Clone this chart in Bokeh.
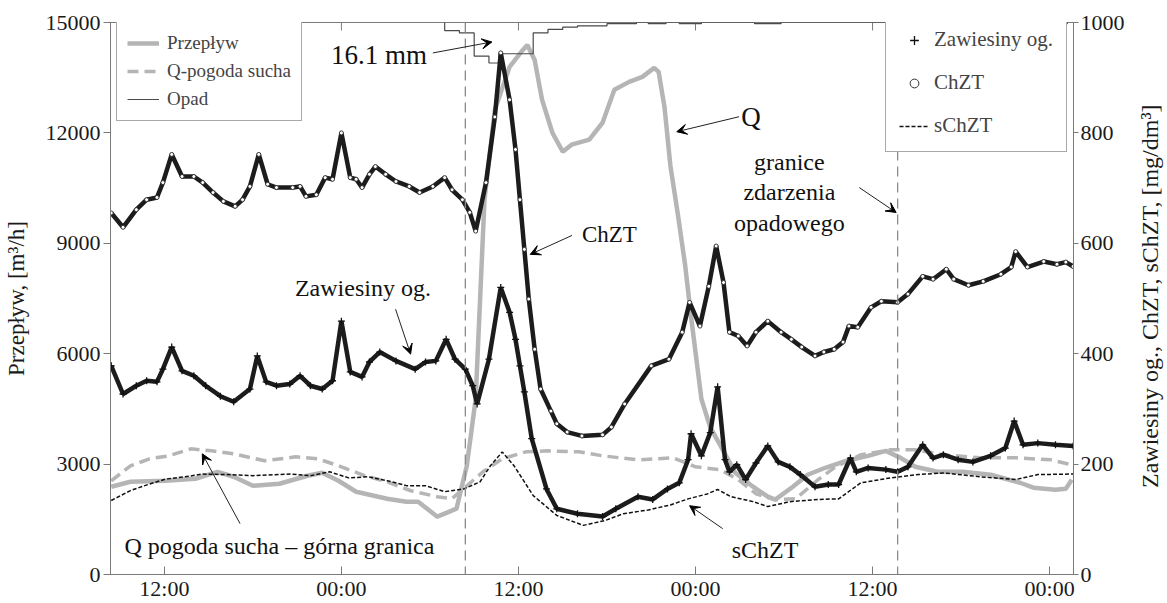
import math
from bokeh.plotting import figure
from bokeh.layouts import row
from bokeh.models import (Range1d, LinearAxis, FixedTicker, Legend, LegendItem,
                          Span, Label, Arrow, VeeHead)
from bokeh.embed import file_html
from bokeh.resources import INLINE

# ---------------- data (time in hours from 00:00 of day 1) ----------------
time_ticks = [12, 24, 36, 48, 60, 72]
time_labels = ["12:00", "00:00", "12:00", "00:00", "12:00", "00:00"]
q_ticks = [0, 3000, 6000, 9000, 12000, 15000]
c_ticks = [0, 200, 400, 600, 800, 1000]
event_bounds = [32.4, 61.7]

q_t = [8.4, 9.7, 12.1, 14.1, 15.6, 16.7, 18.0, 19.8, 21.7, 22.7, 23.8, 25.0, 27.1, 28.4,
       29.2, 30.5, 31.8, 32.5, 33.1, 33.7, 34.4, 35.4, 36.3, 36.6, 37.1, 37.6, 38.3, 39.0,
       39.6, 40.8, 41.7, 42.5, 43.5, 44.4, 45.2, 45.5, 45.9, 46.3, 46.8, 47.3, 47.7, 48.4,
       49.0, 49.7, 50.7, 51.9, 52.9, 53.4, 54.6, 55.6, 56.8, 58.2, 59.7, 60.9, 61.9, 62.9,
       64.4, 66.1, 68.0, 70.0, 70.9, 72.4, 73.1, 73.5]
q = [2385, 2520, 2547, 2602, 2791, 2656, 2412, 2466, 2683, 2764, 2547, 2249, 2060, 1978,
     1978, 1572, 1789, 2954, 4770, 10190, 12630, 13794, 14255, 14390, 13980, 12900, 12005, 11490,
     11680, 11815, 12276, 13170, 13387, 13523, 13767, 13660, 12700, 11100, 9800, 8400, 7000, 4770,
     4000, 3496, 2764, 2385, 2114, 2033, 2385, 2710, 2900, 3089, 3225, 3360, 3170, 2927,
     2791, 2791, 2710, 2493, 2358, 2303, 2330, 2575]

qd_t = [8.4, 9.7, 11.0, 12.3, 13.8, 15.2, 16.7, 18.8, 20.9, 22.4, 24.0, 25.6, 27.1, 28.7,
        30.5, 31.5, 32.5, 33.6, 34.9, 36.5, 38.0, 40.1, 41.7, 44.1, 46.5, 48.0, 49.7, 50.9,
        52.1, 53.4, 54.8, 56.3, 57.5, 59.2, 61.2, 62.9, 64.8, 67.3, 69.7, 72.1, 73.5]
qd = [2547, 2954, 3144, 3225, 3415, 3360, 3279, 3089, 3198, 3144, 2927, 2683, 2520, 2276,
      2114, 2060, 2412, 2791, 3144, 3333, 3360, 3333, 3225, 3116, 3170, 2927, 2845, 2575,
      2195, 2033, 2060, 2575, 2927, 3252, 3388, 3388, 3252, 3170, 3170, 3116, 2981]

chzt_t = [8.4, 9.2, 10.1, 10.8, 11.5, 11.9, 12.5, 13.2, 14.0, 14.6, 15.3, 16.0, 16.8, 17.3,
          17.8, 18.4, 19.0, 19.6, 20.7, 21.2, 21.6, 22.3, 22.9, 23.4, 24.0, 24.6, 25.0, 25.4,
          25.9, 26.3, 27.0, 27.7, 28.6, 29.3, 30.2, 31.0, 31.5, 32.2, 32.7, 33.1, 33.8, 34.4,
          34.8, 35.4, 35.8, 36.1, 36.4, 36.7, 37.1, 37.5, 38.2, 38.6, 39.3, 40.3, 41.7, 42.3,
          43.2, 45.0, 46.2, 47.1, 47.6, 48.3, 48.9, 49.4, 49.9, 50.3, 50.9, 51.5, 52.1, 52.9,
          53.8, 54.5, 55.2, 56.1, 56.7, 57.4, 58.0, 58.4, 59.0, 59.9, 60.6, 61.7, 62.4, 63.4,
          64.1, 65.0, 65.5, 66.5, 67.5, 68.7, 69.4, 69.7, 70.5, 71.6, 72.5, 73.1, 73.6]
chzt = [655, 629, 661, 679, 683, 710, 761, 721, 721, 710, 692, 676, 667, 679,
        703, 761, 707, 701, 701, 703, 685, 688, 719, 716, 800, 719, 716, 701,
        725, 739, 725, 712, 703, 692, 703, 719, 697, 679, 656, 622, 710, 829,
        945, 860, 770, 679, 589, 499, 408, 336, 296, 273, 258, 251, 253, 267,
        309, 378, 390, 439, 493, 450, 522, 595, 529, 439, 432, 414, 439, 459,
        439, 426, 412, 396, 403, 408, 421, 450, 448, 484, 495, 493, 508, 540,
        535, 553, 535, 524, 531, 544, 557, 585, 557, 567, 562, 566, 558]

zaw_t = [8.4, 9.2, 10.1, 10.8, 11.5, 11.9, 12.5, 13.2, 14.0, 14.8, 15.8, 16.7, 17.8, 18.3,
         18.9, 19.6, 20.5, 21.2, 21.9, 22.7, 23.4, 24.0, 24.6, 25.4, 25.9, 26.6, 27.7, 29.0,
         29.7, 30.4, 31.1, 31.7, 32.4, 32.9, 33.2, 34.0, 34.8, 35.4, 35.8, 36.1, 36.4, 36.9,
         37.9, 38.6, 40.0, 41.7, 42.6, 44.1, 45.1, 46.1, 46.9, 47.5, 47.7, 48.4, 49.0, 49.5,
         50.0, 50.3, 50.8, 51.4, 52.1, 52.9, 53.6, 54.4, 55.1, 56.1, 57.0, 57.7, 58.5, 58.9,
         59.7, 60.9, 61.7, 62.4, 63.4, 64.1, 64.8, 65.8, 66.8, 68.0, 69.0, 69.6, 70.2, 71.2,
         72.4, 73.6]
zaw = [378, 327, 342, 351, 349, 372, 412, 369, 360, 342, 323, 313, 336, 396,
       349, 342, 345, 360, 342, 336, 351, 459, 367, 358, 385, 403, 387, 372,
       385, 387, 426, 390, 372, 342, 309, 390, 520, 475, 426, 378, 331, 246,
       155, 119, 110, 105, 119, 141, 136, 155, 166, 208, 255, 215, 257, 340,
       208, 186, 199, 172, 202, 233, 204, 195, 181, 159, 163, 163, 211, 186,
       193, 190, 186, 195, 235, 211, 217, 208, 204, 215, 229, 278, 235, 238,
       235, 233]

schzt_t = [8.4, 9.7, 11.0, 12.1, 13.4, 14.6, 16.2, 18.0, 20.6, 21.9, 23.2, 24.5, 25.8, 27.1,
           28.4, 29.7, 31.0, 32.3, 33.4, 34.1, 34.9, 35.7, 37.0, 38.6, 40.4, 41.9, 43.1, 44.8,
           46.3, 47.5, 48.8, 49.5, 50.4, 51.9, 52.9, 54.4, 56.3, 57.7, 59.2, 61.2, 63.1, 64.8,
           67.3, 69.7, 71.2, 73.6]
schzt = [134, 152, 164, 173, 177, 182, 181, 179, 182, 179, 186, 175, 177, 170,
         161, 161, 150, 155, 168, 197, 222, 197, 143, 107, 89, 98, 110, 117,
         126, 137, 146, 154, 141, 132, 123, 132, 136, 137, 166, 175, 181, 184,
         177, 172, 181, 182]

# rainfall intensity [mm/h] per interval
rain_t0 = [31.0, 32.0, 33.0, 34.0, 34.7, 37.0, 38.0, 39.0, 40.0, 42.0, 44.8, 46.9, 52.0, 72.0]
rain_t1 = [32.0, 33.0, 34.0, 34.7, 37.0, 38.0, 39.0, 40.0, 42.0, 44.0, 46.0, 48.4, 53.8, 73.2]
rain_i = [0.7, 0.9, 2.9, 3.5, 2.7, 0.9, 0.6, 0.4, 0.3, 0.1, 0.1, 0.1, 0.1, 0.1]

# step path of the hyetograph built from the intervals
rain_x, rain_y = [rain_t0[0]], [0.0]
prev_end = rain_t0[0]
for a, b, v in zip(rain_t0, rain_t1, rain_i):
    if a != prev_end:
        rain_x += [prev_end, a]
        rain_y += [0.0, 0.0]
    rain_x += [a, b]
    rain_y += [v, v]
    prev_end = b
rain_x.append(prev_end)
rain_y.append(0.0)

# ---------------- figure ----------------
FONT = "Liberation Serif"
GRAY_AX = "#7a7a7a"
TXT = "#1a1a1a"
W_TITLE = 40

p = figure(width=1167 - W_TITLE, height=603, output_backend="svg", toolbar_location=None,
           x_range=Range1d(8.35, 73.62), y_range=Range1d(0, 15000),
           min_border_left=107, min_border_right=54, min_border_top=22, min_border_bottom=27)
p.extra_y_ranges = {"conc": Range1d(0, 1000), "rain": Range1d(47.7, 0)}
p.grid.visible = False
p.outline_line_color = GRAY_AX
p.background_fill_color = "white"
p.border_fill_color = "white"

# axes
xa = p.xaxis[0]
xa.ticker = FixedTicker(ticks=time_ticks)
xa.major_label_overrides = {t: l for t, l in zip(time_ticks, time_labels)}
xa.major_tick_in = 8
xa.major_tick_out = 0
xa.major_label_standoff = 1
ya = p.yaxis[0]
ya.ticker = FixedTicker(ticks=q_ticks)
ya.major_tick_in = 0
ya.major_tick_out = 7
ya.major_label_standoff = 3
ya.axis_label = "Przepływ, [m³/h]"
ya.axis_label_standoff = 14

ra = LinearAxis(y_range_name="conc", ticker=FixedTicker(ticks=c_ticks),
                major_tick_in=0, major_tick_out=5, major_label_standoff=2)
p.add_layout(ra, "right")

for ax in (xa, ya, ra):
    ax.axis_line_color = GRAY_AX
    ax.major_tick_line_color = GRAY_AX
    ax.minor_tick_line_color = None
    ax.major_label_text_font = FONT
    ax.major_label_text_font_size = "22px"
    ax.major_label_text_color = TXT
    ax.axis_label_text_font = FONT
    ax.axis_label_text_font_size = "23px"
    ax.axis_label_text_font_style = "normal"
    ax.axis_label_text_color = TXT

# inward ticks on the top edge of the frame
p.scatter(time_ticks, [q_ticks[-1]] * len(time_ticks), marker="dash", angle=math.pi / 2,
          size=16, line_color=GRAY_AX, line_width=1)

# event boundaries
for eb in event_bounds:
    p.add_layout(Span(location=eb, dimension="height", line_color="#8a8a8a",
                      line_dash="10 6", line_width=1.3))

# series
r_q = p.line(q_t, q, line_color="#b5b5b5", line_width=4.5)
r_qd = p.line(qd_t, qd, line_color="#b5b5b5", line_width=3.5, line_dash="11 6")
r_rain = p.line(rain_x, rain_y, y_range_name="rain", line_color="#4a4a4a", line_width=1.2)
r_s = p.line(schzt_t, schzt, y_range_name="conc", line_color="#111111", line_width=1.5,
             line_dash="4 2")
p.line(zaw_t, zaw, y_range_name="conc", line_color="#1c1c1c", line_width=4.5)
r_zaw = p.scatter(zaw_t, zaw, y_range_name="conc", marker="cross", size=7,
                  line_color="#111111", line_width=1.3)
p.line(chzt_t, chzt, y_range_name="conc", line_color="#1c1c1c", line_width=4.5)
r_c = p.scatter(chzt_t, chzt, y_range_name="conc", marker="circle", size=4,
                line_color="#333333", fill_color="white", line_width=1)

# legends
leg1 = Legend(items=[LegendItem(label="Przepływ", renderers=[r_q]),
                     LegendItem(label="Q-pogoda sucha", renderers=[r_qd]),
                     LegendItem(label="Opad", renderers=[r_rain])],
              location=(6, 453), glyph_width=32, glyph_height=20, label_height=20,
              label_standoff=8, spacing=6, padding=10, margin=0,
              label_text_font=FONT, label_text_font_size="19px",
              border_line_color="#555555", border_line_width=1,
              background_fill_color="white", background_fill_alpha=1.0)
leg2 = Legend(items=[LegendItem(label="Zawiesiny og.", renderers=[r_zaw]),
                     LegendItem(label="ChZT", renderers=[r_c]),
                     LegendItem(label="sChZT", renderers=[r_s])],
              location=(775, 422), glyph_width=30, glyph_height=22, label_height=22,
              label_standoff=5, spacing=18, padding=13, margin=0,
              label_text_font=FONT, label_text_font_size="21px",
              border_line_color="#555555", border_line_width=1,
              background_fill_color="white", background_fill_alpha=1.0)
p.add_layout(leg1, "center")
p.add_layout(leg2, "center")

# annotations
def lab(x, y, text, size="24px", align="left"):
    p.add_layout(Label(x=x, y=y, text=text, text_font=FONT, text_font_size=size,
                       text_align=align, text_baseline="middle", text_color="#111111"))

def arr(x0, y0, x1, y1):
    p.add_layout(Arrow(end=VeeHead(size=10, fill_color="black", line_color="black",
                                   line_width=1),
                       x_start=x0, y_start=y0, x_end=x1, y_end=y1,
                       line_color="#222222", line_width=1))

lab(23.3, 14120, "16.1 mm", "27px")
arr(30.2, 14173, 34.2, 14471)
lab(51.1, 12440, "Q", "27px")
arr(50.95, 12439, 46.73, 12032)
lab(40.3, 9240, "ChZT", "23px")
arr(39.63, 9214, 36.8, 8699)
lab(54.36, 11219, "granice", "24px", "center")
lab(54.36, 10406, "zdarzenia", "24px", "center")
lab(54.36, 9539, "opadowego", "24px", "center")
arr(59.1, 10515, 61.6, 9837)
lab(20.85, 7778, "Zawiesiny og.", "24px")
arr(27.67, 7209, 28.69, 5989)
lab(9.3, 786, "Q pogoda sucha – górna granica", "24px")
arr(17.13, 1382, 14.57, 3279)
lab(50.45, 678, "sChZT", "24px")
arr(49.84, 1247, 47.6, 1870)

# narrow strip carrying the right-axis title (reads bottom-to-top)
t = figure(width=W_TITLE, height=603, output_backend="svg", toolbar_location=None,
           x_range=Range1d(0, W_TITLE), y_range=Range1d(0, 603),
           x_axis_type=None, y_axis_type=None,
           min_border_left=0, min_border_right=0, min_border_top=0, min_border_bottom=0)
t.grid.visible = False
t.outline_line_color = None
t.background_fill_color = "white"
t.border_fill_color = "white"
t.add_layout(Label(x=22, y=304, text="Zawiesiny og., ChZT, sChZT, [mg/dm³]",
                   angle=math.pi / 2, text_font=FONT, text_font_size="24px",
                   text_align="center", text_baseline="middle", text_color=TXT))

layout = row(p, t, spacing=0)
open("out.html", "w").write(file_html(layout, INLINE))
